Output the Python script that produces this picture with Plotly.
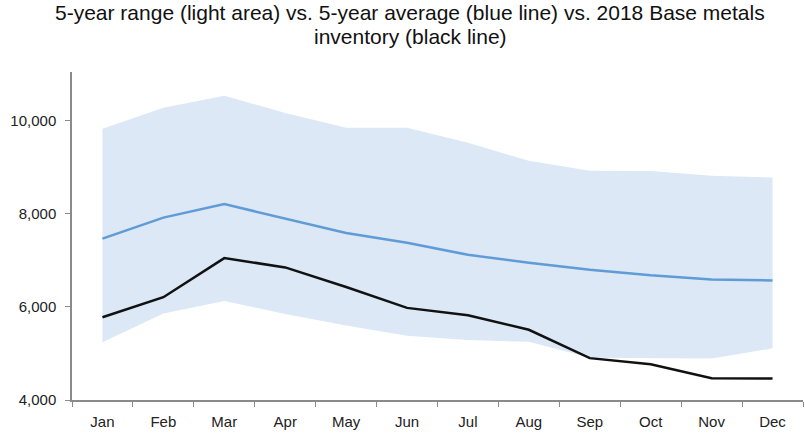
import plotly.graph_objects as go

months = ["Jan", "Feb", "Mar", "Apr", "May", "Jun", "Jul", "Aug", "Sep", "Oct", "Nov", "Dec"]
range_high = [9830, 10280, 10540, 10170, 9850, 9850, 9530, 9140, 8930, 8920, 8820, 8780]
range_low = [5240, 5860, 6130, 5850, 5600, 5380, 5290, 5250, 4910, 4900, 4890, 5110]
avg_5yr = [7470, 7920, 8210, 7900, 7590, 7380, 7120, 6950, 6800, 6680, 6590, 6570]
inv_2018 = [5780, 6210, 7050, 6850, 6430, 5980, 5820, 5510, 4900, 4770, 4470, 4460]
y_ticks = [4000, 6000, 8000, 10000]
y_tick_labels = ["4,000", "6,000", "8,000", "10,000"]
title_line1 = "5-year range (light area) vs. 5-year average (blue line) vs. 2018 Base metals"
title_line2 = "inventory (black line)"

FONT = "Liberation Sans, Arial, sans-serif"

fig = go.Figure()
fig.add_trace(go.Scatter(x=months, y=range_low, mode="lines", line=dict(width=0),
                         hoverinfo="skip", showlegend=False))
fig.add_trace(go.Scatter(x=months, y=range_high, mode="lines", line=dict(width=0),
                         fill="tonexty", fillcolor="#dce8f5", showlegend=False))
fig.add_trace(go.Scatter(x=months, y=avg_5yr, mode="lines",
                         line=dict(color="#5f9bd6", width=2.5), showlegend=False))
fig.add_trace(go.Scatter(x=months, y=inv_2018, mode="lines",
                         line=dict(color="#111111", width=2.5), showlegend=False))

fig.add_annotation(text=title_line1, xref="paper", yref="paper", x=0.463, y=1.182,
                   xanchor="center", yanchor="middle", showarrow=False,
                   font=dict(size=21, color="#111111", family=FONT))
fig.add_annotation(text=title_line2, xref="paper", yref="paper", x=0.463, y=1.108,
                   xanchor="center", yanchor="middle", showarrow=False,
                   font=dict(size=21, color="#111111", family=FONT))

fig.update_layout(
    width=805, height=436,
    margin=dict(l=72, r=2, t=72, b=36),
    paper_bgcolor="white", plot_bgcolor="white",
    font=dict(family=FONT, size=15, color="#222222"),
    xaxis=dict(type="category", range=[-0.5, 11.5], showgrid=False, zeroline=False,
               showline=True, linecolor="#8a8a8a", linewidth=1.5,
               ticks="outside", tickson="boundaries", ticklen=5, tickcolor="#8a8a8a",
               ticklabelstandoff=7,
               tickfont=dict(size=15, color="#222222")),
    yaxis=dict(range=[4000, 11050], showgrid=False, zeroline=False,
               showline=True, linecolor="#8a8a8a", linewidth=1.5,
               ticks="outside", ticklen=5, tickcolor="#8a8a8a",
               tickvals=y_ticks, ticktext=y_tick_labels, ticklabelstandoff=6,
               tickfont=dict(size=15, color="#222222")),
)

fig.write_html("out.html", config={"displayModeBar": False},
               post_script="document.body.style.margin='0';")
